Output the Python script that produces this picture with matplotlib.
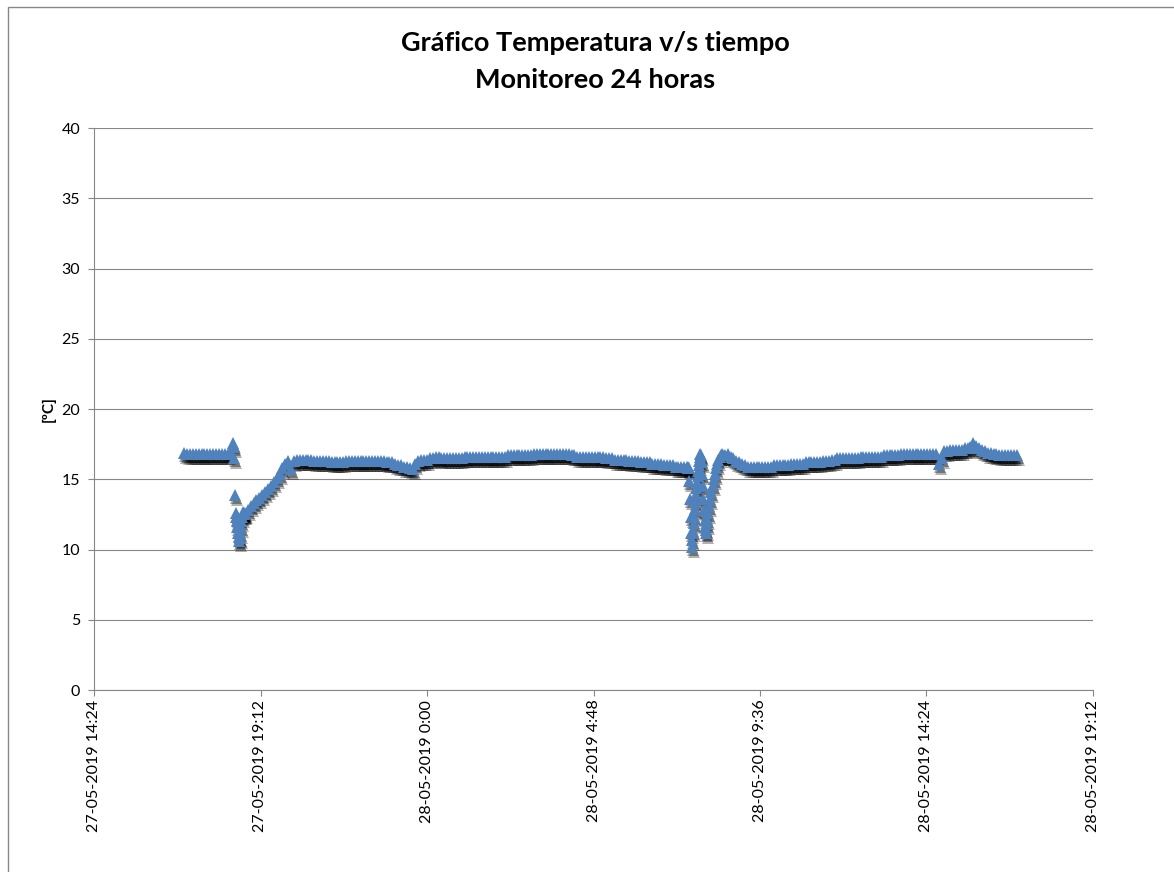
import matplotlib
matplotlib.use('Agg')
import matplotlib.pyplot as plt
import matplotlib.dates as mdates
import matplotlib.transforms as mtransforms
from matplotlib.patches import Rectangle
from matplotlib.ticker import FuncFormatter
import numpy as np
import pandas as pd

# Temperature log, one reading every 5 minutes from 27-05 17:00 to 28-05 17:00.
# None marks the stretches where the door openings are logged minute by minute below.
start = '2019-05-27 17:00'
temp_5min = [
    16.9, 16.8, 16.8, 16.8, 16.8, 16.8, 16.8, 16.8, 16.8, 16.8, 16.8, 16.8,  # 17h
    16.8, 16.8, 16.8, 16.8, 16.9, 17.6, None, None, None, 12.6, 12.8, 13.1,  # 18h
    13.3, 13.5, 13.7, 13.9, 14.1, 14.3, 14.5, 14.8, 15.1, 15.4, 15.8, 16.1,  # 19h
    16.3, 15.7, 16.3, 16.4, 16.4, 16.4, 16.4, 16.4, 16.4, 16.3, 16.3, 16.3,  # 20h
    16.3, 16.3, 16.3, 16.2, 16.2, 16.2, 16.2, 16.2, 16.3, 16.3, 16.3, 16.3,  # 21h
    16.3, 16.3, 16.3, 16.3, 16.3, 16.3, 16.3, 16.3, 16.3, 16.3, 16.2, 16.2,  # 22h
    16.2, 16.1, 16.0, 16.0, 15.9, 15.9, 15.8, 15.7, 16.1, 16.3, 16.4, 16.4,  # 23h
    16.4, 16.5, 16.5, 16.6, 16.6, 16.5, 16.5, 16.5, 16.5, 16.5, 16.5, 16.5,  # 0h
    16.5, 16.6, 16.6, 16.6, 16.6, 16.6, 16.6, 16.6, 16.6, 16.6, 16.6, 16.6,  # 1h
    16.6, 16.6, 16.6, 16.6, 16.7, 16.7, 16.7, 16.7, 16.7, 16.7, 16.7, 16.7,  # 2h
    16.7, 16.8, 16.8, 16.8, 16.8, 16.8, 16.8, 16.8, 16.8, 16.8, 16.8, 16.8,  # 3h
    16.8, 16.8, 16.7, 16.7, 16.6, 16.6, 16.6, 16.6, 16.6, 16.6, 16.6, 16.6,  # 4h
    16.6, 16.6, 16.5, 16.5, 16.5, 16.4, 16.4, 16.4, 16.4, 16.4, 16.3, 16.3,  # 5h
    16.3, 16.3, 16.2, 16.2, 16.2, 16.2, 16.1, 16.1, 16.1, 16.1, 16.0, 16.0,  # 6h
    16.0, 16.0, 15.9, 15.9, 15.9, 15.9, 15.9, None, None, None, None, None,  # 7h
    None, None, None, None, None, None, None, 16.7, 16.8, 16.6, 16.5, 16.3,  # 8h
    16.2, 16.1, 16.0, 15.9, 15.9, 15.9, 15.9, 15.9, 15.9, 15.9, 15.9, 15.9,  # 9h
    16.0, 16.0, 16.0, 16.0, 16.0, 16.0, 16.1, 16.1, 16.1, 16.1, 16.1, 16.2,  # 10h
    16.2, 16.2, 16.2, 16.2, 16.2, 16.3, 16.3, 16.3, 16.4, 16.4, 16.5, 16.5,  # 11h
    16.5, 16.5, 16.5, 16.5, 16.5, 16.5, 16.6, 16.6, 16.6, 16.6, 16.6, 16.6,  # 12h
    16.6, 16.6, 16.7, 16.7, 16.7, 16.7, 16.7, 16.7, 16.8, 16.8, 16.8, 16.8,  # 13h
    16.8, 16.8, 16.8, 16.8, 16.8, 16.8, 16.8, 16.8, 16.8, 16.1, 16.5, 17.0,  # 14h
    17.0, 17.1, 17.1, 17.1, 17.1, 17.1, 17.2, 17.2, 17.3, 17.6, 17.4, 17.2,  # 15h
    17.1, 17.0, 16.9, 16.9, 16.8, 16.8, 16.7, 16.7, 16.7, 16.7, 16.7, 16.7,  # 16h
    16.7,                                                                    # 17h
]

# minute readings during the evening door opening (27-05)
dip1_clock = ['18:26', '18:27', '18:28', '18:29', '18:30', '18:31', '18:32',
              '18:33', '18:34', '18:35', '18:36', '18:37', '18:38', '18:39',
              '18:40', '18:41', '18:42', '18:43', '18:44']
dip1_temp = [17.3, 16.5, 13.9, 12.6, 12.3, 12.0, 11.6,
             11.2, 10.9, 10.6, 10.8, 11.2, 11.6, 12.0,
             12.3, 12.5, 12.7, 12.5, 12.6]

# minute readings during the morning door openings (28-05)
dip2_clock = ['07:31', '07:32', '07:33', '07:34', '07:35', '07:36', '07:37',
              '07:38', '07:39', '07:40', '07:41', '07:42', '07:43', '07:44',
              '07:45', '07:46', '07:47', '07:48', '07:49', '07:50', '07:51',
              '07:52', '07:53', '07:54', '07:55', '07:56', '07:57', '07:58',
              '07:59', '08:00', '08:01', '08:02', '08:03', '08:04', '08:05',
              '08:06', '08:08', '08:10', '08:12', '08:14', '08:16', '08:18',
              '08:20', '08:22', '08:24', '08:26', '08:28', '08:30', '08:32']
dip2_temp = [15.9, 15.8, 15.8, 14.9, 13.6, 12.3, 11.2,
             10.2, 10.7, 11.3, 11.9, 12.4, 12.9, 13.4,
             13.9, 14.4, 14.8, 15.2, 15.6, 16.0, 16.3,
             16.6, 16.8, 16.7, 16.2, 15.4, 14.5, 13.6,
             12.8, 12.1, 11.6, 11.2, 11.4, 11.8, 12.2,
             12.6, 13.1, 13.6, 14.1, 14.6, 15.0, 15.4,
             15.8, 16.1, 16.4, 16.6, 16.7, 16.8, 16.7]

x_ticks = ['2019-05-27 14:24', '2019-05-27 19:12', '2019-05-28 00:00',
           '2019-05-28 04:48', '2019-05-28 09:36', '2019-05-28 14:24',
           '2019-05-28 19:12']
y_ticks = [0, 5, 10, 15, 20, 25, 30, 35, 40]

BLUE = '#4F81BD'
GRID = '#878787'
FONT = 'Lato'
MS = 8.5


def tick_label(v, pos):
    d = pd.Timestamp(mdates.num2date(v)).round('min')
    return f'{d:%d-%m-%Y} {d.hour}:{d.minute:02d}'


# assemble the full log
t_main = pd.date_range(start, periods=len(temp_5min), freq='5min')
main = pd.Series(temp_5min, index=t_main, dtype=float).dropna()
dip1 = pd.Series(dip1_temp, index=pd.to_datetime(['2019-05-27 ' + c for c in dip1_clock]))
dip2 = pd.Series(dip2_temp, index=pd.to_datetime(['2019-05-28 ' + c for c in dip2_clock]))
log = pd.concat([main, dip1, dip2]).sort_index()

fig = plt.figure(figsize=(11.74, 8.72), dpi=100, facecolor='white')
ax = fig.add_axes([94 / 1174, 1 - 690 / 872, 999 / 1174, 562 / 872])

# soft drop shadow under the markers
for dx, dy, a in [(1, -3, 0.35), (2, -5, 0.3)]:
    shadow = mtransforms.offset_copy(ax.transData, fig=fig, x=dx, y=dy, units='dots')
    ax.plot(log.index, log.values, linestyle='none', marker='^', markersize=MS,
            markeredgewidth=0, color='black', alpha=a, transform=shadow, zorder=2)

ax.plot(log.index, log.values, linestyle='none', marker='^', markersize=MS,
        markeredgewidth=0, color=BLUE, zorder=3)

xt = pd.to_datetime(x_ticks)
ax.set_xlim(xt[0], xt[-1])
ax.set_ylim(y_ticks[0], y_ticks[-1])
ax.set_xticks(xt)
ax.set_yticks(y_ticks)
ax.xaxis.set_major_formatter(FuncFormatter(tick_label))

ax.grid(axis='y', color=GRID, linewidth=0.8)
ax.set_axisbelow(True)
for side in ['top', 'right']:
    ax.spines[side].set_visible(False)
for side in ['left', 'bottom']:
    ax.spines[side].set_color(GRID)
    ax.spines[side].set_linewidth(0.8)

ax.tick_params(axis='both', colors=GRID, length=4, width=0.8, direction='out')
ax.tick_params(axis='y', labelcolor='black', labelsize=11.5, pad=6)
ax.tick_params(axis='x', labelcolor='black', labelsize=11.5, pad=3, labelrotation=90)
for lab in ax.get_xticklabels() + ax.get_yticklabels():
    lab.set_family(FONT)

ax.set_ylabel('[ºC]', fontsize=11, fontweight='bold', family=FONT)
ax.yaxis.set_label_coords(-0.038, 0.5)

fig.text(0.507, 1 - 43 / 872, 'Gráfico Temperatura v/s tiempo', ha='center', va='center',
         fontsize=19.5, fontweight='bold', family=FONT)
fig.text(0.507, 1 - 80 / 872, 'Monitoreo 24 horas', ha='center', va='center',
         fontsize=19.5, fontweight='bold', family=FONT)

# chart area frame
fig.add_artist(Rectangle((8 / 1174, -0.1), 1.2, 1.1 - 7 / 872, transform=fig.transFigure,
                         fill=False, edgecolor=GRID, linewidth=1))

fig.savefig('out.png', dpi=100, facecolor='white')
